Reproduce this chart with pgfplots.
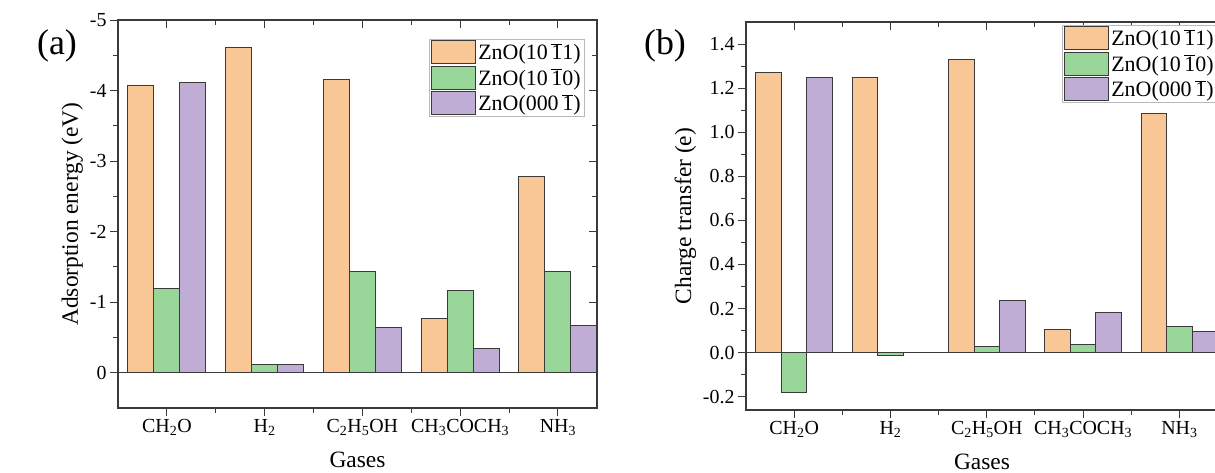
\documentclass[border=0pt]{standalone}
\usepackage{fontspec}
\setmainfont{Liberation Serif}
\usepackage{pgfplots}
\pgfplotsset{compat=1.18}

\definecolor{cor}{HTML}{F9C796}
\definecolor{cgr}{HTML}{99D69A}
\definecolor{cpu}{HTML}{BFADD6}
\definecolor{axc}{HTML}{3A3A3A}

\newcommand{\ob}[1]{$\overline{\mbox{#1}}$}
\newcommand{\sub}[1]{\textsubscript{#1}}

\pgfplotsset{
  base/.style={
    scale only axis,
    anchor=north west,
    height=388bp,
    xmin=-0.5, xmax=4.4,
    xtick={0,1,2,3,4},
    minor x tick num=1,
    minor y tick num=1,
    axis line style={axc, line width=1.2bp},
    every tick/.style={axc, line width=1bp},
    major tick length=8bp,
    minor tick length=5bp,
  },
  main/.style={
    base,
    tick pos=left,
    tick align=outside,
    xticklabels={CH\sub{2}O, H\sub{2}, C\sub{2}H\sub{5}OH, CH\sub{3}COCH\sub{3}, NH\sub{3}},
    ticklabel style={font=\fontsize{20}{22}\selectfont},
    /pgf/number format/assume math mode=true,
    xlabel={Gases},
    label style={font=\fontsize{23.5}{26}\selectfont},
    xlabel style={yshift=-9bp},
    ybar=0pt,
    bar width=0.266,
    every axis plot/.append style={draw=axc, line width=1bp},
    legend cell align=left,
    legend image code/.code={\draw[##1, draw=axc, line width=0.9bp] (0bp,-11.5bp) rectangle (44bp,11.5bp);},
    legend style={draw=gray!55, line width=0.8bp, anchor=north east,
      inner xsep=2bp, inner ysep=1bp, row sep=1.5bp,
      font=\fontsize{22}{24}\selectfont,
      /tikz/every even column/.append style={column sep=3bp}},
  },
  over/.style={
    base,
    tick pos=right,
    tick align=inside,
    xticklabels={}, yticklabels={},
  },
}

\begin{document}
\begin{tikzpicture}
\path[use as bounding box] (0,0) rectangle (1215bp,-473bp);

% ---------- panel (a)
\begin{axis}[over, at={(118bp,-20bp)}, width=479bp,
  y dir=reverse, ymin=-5, ymax=0.5, ytick={-5,-4,-3,-2,-1,0}]
\end{axis}
\begin{axis}[main, at={(118bp,-20bp)}, width=479bp,
  y dir=reverse, ymin=-5, ymax=0.5, ytick={-5,-4,-3,-2,-1,0},
  ylabel={Adsorption energy (eV)},
  legend style={at={(1,1)}, xshift=-12bp, yshift=-19bp}]
\addplot[fill=cor] coordinates {(0,-4.07) (1,-4.61) (2,-4.15) (3,-0.77) (4,-2.78)};
\addplot[fill=cgr] coordinates {(0,-1.20) (1,-0.12) (2,-1.43) (3,-1.17) (4,-1.43)};
\addplot[fill=cpu] coordinates {(0,-4.12) (1,-0.12) (2,-0.64) (3,-0.34) (4,-0.67)};
\draw[axc, line width=1.2bp] (axis cs:-0.5,0) -- (axis cs:4.4,0);
\legend{ZnO(10\,\ob{1}1), ZnO(10\,\ob{1}0), ZnO(000\,\ob{1})}
\end{axis}
\node[font=\fontsize{36}{40}\selectfont] at (57bp,-46bp) {(a)};

% ---------- panel (b)
\begin{axis}[over, at={(746bp,-22bp)}, width=472bp,
  ymin=-0.26, ymax=1.5, ytick=\empty, minor y tick num=0]
\end{axis}
\begin{axis}[main, at={(746bp,-22bp)}, width=472bp,
  ymin=-0.26, ymax=1.5, ytick={-0.2,0,0.2,0.4,0.6,0.8,1.0,1.2,1.4},
  yticklabel style={/pgf/number format/.cd, fixed, fixed zerofill, precision=1},
  ylabel={Charge transfer (e)},
  legend style={at={(1,1)}, xshift=0bp, yshift=-3bp}]
\addplot[fill=cor] coordinates {(0,1.27) (1,1.247) (2,1.33) (3,0.106) (4,1.085)};
\addplot[fill=cgr] coordinates {(0,-0.179) (1,-0.012) (2,0.03) (3,0.036) (4,0.121)};
\addplot[fill=cpu] coordinates {(0,1.247) (1,0.0) (2,0.235) (3,0.183) (4,0.095)};
\draw[axc, line width=1.2bp] (axis cs:-0.5,0) -- (axis cs:4.4,0);
\legend{ZnO(10\,\ob{1}1), ZnO(10\,\ob{1}0), ZnO(000\,\ob{1})}
\end{axis}
\node[font=\fontsize{36}{40}\selectfont] at (665bp,-46bp) {(b)};
\end{tikzpicture}
\end{document}
